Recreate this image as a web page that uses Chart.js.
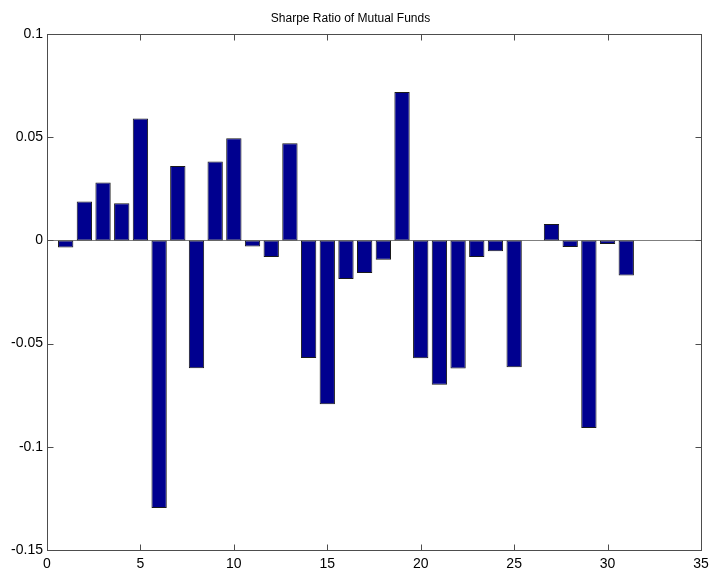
<!DOCTYPE html>
<html>
<head>
<meta charset="utf-8">
<script src="https://cdn.jsdelivr.net/npm/chart.js@4.4.1/dist/chart.umd.min.js"></script>
<style>
  html, body { margin: 0; padding: 0; background: #fff; }
  #wrap { width: 711px; height: 569px; }
</style>
</head>
<body>
<div id="wrap"><canvas id="sharpeChart" width="711" height="569"></canvas></div>
<script>
// Sharpe ratio per fund (fund number 1..31)
const fundNumbers = [1, 2, 3, 4, 5, 6, 7, 8, 9, 10, 11, 12, 13, 14, 15, 16,
    17, 18, 19, 20, 21, 22, 23, 24, 25, 26, 27, 28, 29, 30, 31];
const sharpeRatios = [-0.0034, 0.0188, 0.0280, 0.0180, 0.0590, -0.1296, 0.0361, -0.0620,
    0.0382, 0.0495, -0.0029, -0.0081, 0.0471, -0.0570, -0.0794, -0.0187,
    -0.0158, -0.0094, 0.0719, -0.0571, -0.0699, -0.0621, -0.0081, -0.0053,
    -0.0615, 0, 0.0080, -0.0032, -0.0909, -0.0018, -0.0170];
const xTicks = [0, 5, 10, 15, 20, 25, 30, 35];
const yTicks = [-0.15, -0.1, -0.05, 0, 0.05, 0.1];
const yTickLabels = ['-0.15', '-0.1', '-0.05', '0', '0.05', '0.1'];

const axisColor = '#4d4d4d';

// MATLAB-like frame: full box, inward ticks and a zero baseline
const matlabAxes = {
    id: 'matlabAxes',
    beforeDatasetsDraw(chart) {
        const { ctx, chartArea: a, scales } = chart;
        const y0 = Math.round(scales.y.getPixelForValue(0)) + 0.5;
        ctx.save();
        ctx.strokeStyle = '#7f7f7f';
        ctx.lineWidth = 1;
        ctx.beginPath();
        ctx.moveTo(a.left, y0);
        ctx.lineTo(a.right, y0);
        ctx.stroke();
        ctx.restore();
    },
    afterDraw(chart) {
        const { ctx, chartArea: a, scales } = chart;
        const L = Math.round(a.left) + 0.5, R = Math.round(a.right) + 0.5;
        const T = Math.round(a.top) + 0.5, B = Math.round(a.bottom) + 0.5;
        const len = 6;
        ctx.save();
        ctx.strokeStyle = axisColor;
        ctx.lineWidth = 1;
        ctx.strokeRect(L, T, R - L, B - T);
        ctx.beginPath();
        xTicks.forEach(v => {
            const px = Math.round(scales.x.getPixelForValue(v)) + 0.5;
            ctx.moveTo(px, B); ctx.lineTo(px, B - len);
            ctx.moveTo(px, T); ctx.lineTo(px, T + len);
        });
        yTicks.forEach(v => {
            const py = Math.round(scales.y.getPixelForValue(v)) + 0.5;
            ctx.moveTo(L, py); ctx.lineTo(L + len, py);
            ctx.moveTo(R, py); ctx.lineTo(R - len, py);
        });
        ctx.stroke();
        ctx.restore();
    }
};

const ctx = document.getElementById('sharpeChart');
new Chart(ctx, {
    type: 'bar',
    data: {
        datasets: [{
            label: 'Sharpe Ratio',
            data: fundNumbers.map((n, i) => ({ x: n, y: sharpeRatios[i] })),
            backgroundColor: '#00008f',
            borderColor: '#1a1a1a',
            borderWidth: 1,
            borderSkipped: false,
            barPercentage: 0.82,
            categoryPercentage: 1.0
        }]
    },
    options: {
        responsive: false,
        animation: false,
        layout: { padding: { top: 0, right: 10, bottom: 0, left: 0 } },
        plugins: {
            legend: { display: false },
            tooltip: { enabled: false },
            title: {
                display: true,
                text: 'Sharpe Ratio of Mutual Funds',
                color: '#000',
                font: { family: 'Liberation Sans, Arial, sans-serif', size: 12, weight: 'normal' },
                padding: { top: 11, bottom: 8.6 }
            }
        },
        scales: {
            x: {
                type: 'linear',
                min: 0,
                max: 35,
                offset: false,
                grid: { display: false, drawTicks: false },
                border: { display: false },
                afterBuildTicks: scale => { scale.ticks = xTicks.map(v => ({ value: v })); },
                afterFit: scale => {
                    scale.height = 19;
                    scale.paddingLeft = 0;
                    scale.paddingRight = 0;
                },
                ticks: {
                    color: '#000',
                    padding: 6,
                    maxRotation: 0,
                    font: { family: 'Liberation Sans, Arial, sans-serif', size: 14 },
                    callback: v => String(v)
                }
            },
            y: {
                min: -0.15,
                max: 0.1,
                grid: { display: false, drawTicks: false },
                border: { display: false },
                afterBuildTicks: scale => { scale.ticks = yTicks.map(v => ({ value: v })); },
                afterFit: scale => { scale.width = 47; },
                ticks: {
                    color: '#000',
                    padding: 4,
                    font: { family: 'Liberation Sans, Arial, sans-serif', size: 14 },
                    callback: (v, i) => yTickLabels[i]
                }
            }
        }
    },
    plugins: [matlabAxes]
});
</script>
</body>
</html>
